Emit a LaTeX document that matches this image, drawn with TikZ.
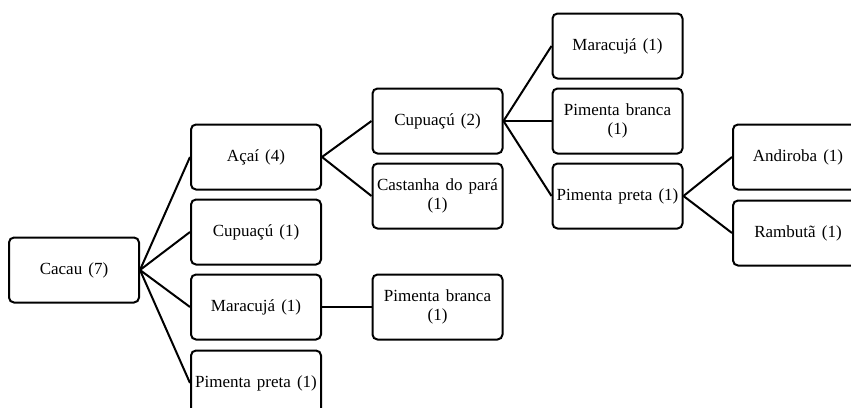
\documentclass[tikz,border=0pt]{standalone}
\usepackage{fontspec}
\setmainfont{Liberation Serif}
\newcommand\myboxfont{\fontsize{17}{18.5}\selectfont\spaceskip=0.36em plus 0.1em minus 0.05em\relax}
\begin{document}
\begin{tikzpicture}[x=1pt,y=-1pt,
  box/.style={draw,line width=2pt,rounded corners=5pt,minimum width=130pt,minimum height=65pt,
    inner sep=0pt,align=center,font=\myboxfont},
  link/.style={line width=2pt}]
\useasboundingbox (0,0) rectangle (851,407);
\clip (0,0) rectangle (851,407);
\node[box] (cacau) at (74,270) {Cacau (7)};
\node[box] (acai) at (256,157) {Açaí (4)};
\node[box] (cup1) at (256,232) {Cupuaçú (1)};
\node[box] (mar1) at (256,307) {Maracujá (1)};
\node[box] (pp1) at (256,383) {Pimenta preta (1)};
\node[box] (cup2) at (437.5,121) {Cupuaçú (2)};
\node[box] (cast) at (437.5,196) {Castanha do pará\\(1)};
\node[box] (pb1) at (437.5,307) {Pimenta branca\\(1)};
\node[box] (mar2) at (617.5,46) {Maracujá (1)};
\node[box] (pb2) at (617.5,121) {Pimenta branca\\(1)};
\node[box] (pp2) at (617.5,196) {Pimenta preta (1)};
\node[box] (and) at (798,157) {Andiroba (1)};
\node[box] (ram) at (798,233) {Rambutã (1)};
\foreach \a/\b in {cacau/acai,cacau/cup1,cacau/mar1,cacau/pp1,acai/cup2,acai/cast,mar1/pb1,
  cup2/mar2,cup2/pb2,cup2/pp2,pp2/and,pp2/ram}
  \draw[link] (\a.east) -- (\b.west);
\end{tikzpicture}
\end{document}
